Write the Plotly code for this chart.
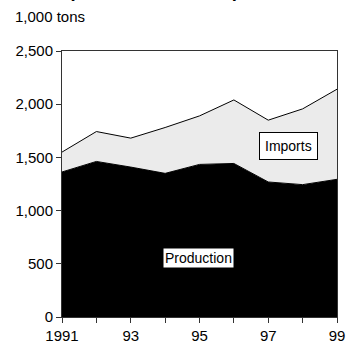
import plotly.graph_objects as go

years = [1991, 1992, 1993, 1994, 1995, 1996, 1997, 1998, 1999]
production = [1363, 1462, 1409, 1350, 1434, 1443, 1269, 1244, 1294]
total_supply = [1550, 1743, 1681, 1781, 1890, 2040, 1850, 1956, 2141]
imports = [t - p for t, p in zip(total_supply, production)]
x_tick_labels = ["1991", "", "93", "", "95", "", "97", "", "99"]
y_ticks = [0, 500, 1000, 1500, 2000, 2500]

W, H = 347, 343
L, R, T, B = 62, 10, 51, 26
pw, ph = W - L - R, H - T - B

def px_x(px):
    return (px - L) / pw

def px_y(py):
    return (H - B - py) / ph

FONT = "Liberation Sans, Arial, sans-serif"

fig = go.Figure()
fig.add_trace(go.Scatter(
    x=years, y=production, stackgroup="s", mode="lines",
    line=dict(color="black", width=1), fillcolor="black", name="Production",
))
fig.add_trace(go.Scatter(
    x=years, y=imports, stackgroup="s", mode="lines",
    line=dict(color="black", width=1), fillcolor="#ebebeb", name="Imports",
))

fig.update_layout(
    width=W, height=H,
    margin=dict(l=L, r=R, t=T, b=B, pad=0),
    paper_bgcolor="white", plot_bgcolor="white",
    showlegend=False,
    font=dict(family=FONT, size=15, color="black"),
    xaxis=dict(
        range=[1991, 1999], tickvals=years, ticktext=x_tick_labels,
        ticks="outside", ticklen=5, tickcolor="#333", showgrid=False, zeroline=False,
        showline=True, linecolor="#333", linewidth=1, mirror=True,
        tickfont=dict(size=15), automargin=False,
    ),
    yaxis=dict(
        range=[0, 2500], tickvals=y_ticks, tickformat=",",
        ticks="outside", ticklen=5, tickcolor="#333", showgrid=False, zeroline=False,
        showline=True, linecolor="#333", linewidth=1, mirror=True,
        tickfont=dict(size=15), automargin=False,
    ),
)

fig.add_annotation(
    text="1,000 tons", xref="paper", yref="paper",
    x=px_x(13), y=px_y(17), xanchor="left", yanchor="middle",
    showarrow=False, font=dict(size=15),
)
fig.add_annotation(
    text="<b>Domestic production and imports</b>", xref="paper", yref="paper",
    x=px_x(-19), y=px_y(1.8), xanchor="left", yanchor="bottom",
    showarrow=False, font=dict(size=18.5), borderpad=0,
)
fig.add_annotation(
    text="Imports", xref="x", yref="y",
    x=1997.58, y=1605, showarrow=False,
    font=dict(size=14), bgcolor="white", bordercolor="black", borderwidth=1, borderpad=5,
)
fig.add_annotation(
    text="Production", xref="x", yref="y",
    x=1994.96, y=550, showarrow=False,
    font=dict(size=14), bgcolor="white", borderpad=1,
)

fig.write_html(
    "out.html",
    config={"displayModeBar": False},
    post_script="document.body.style.margin='0px';document.documentElement.style.overflow='hidden';document.body.style.overflow='hidden';",
)
